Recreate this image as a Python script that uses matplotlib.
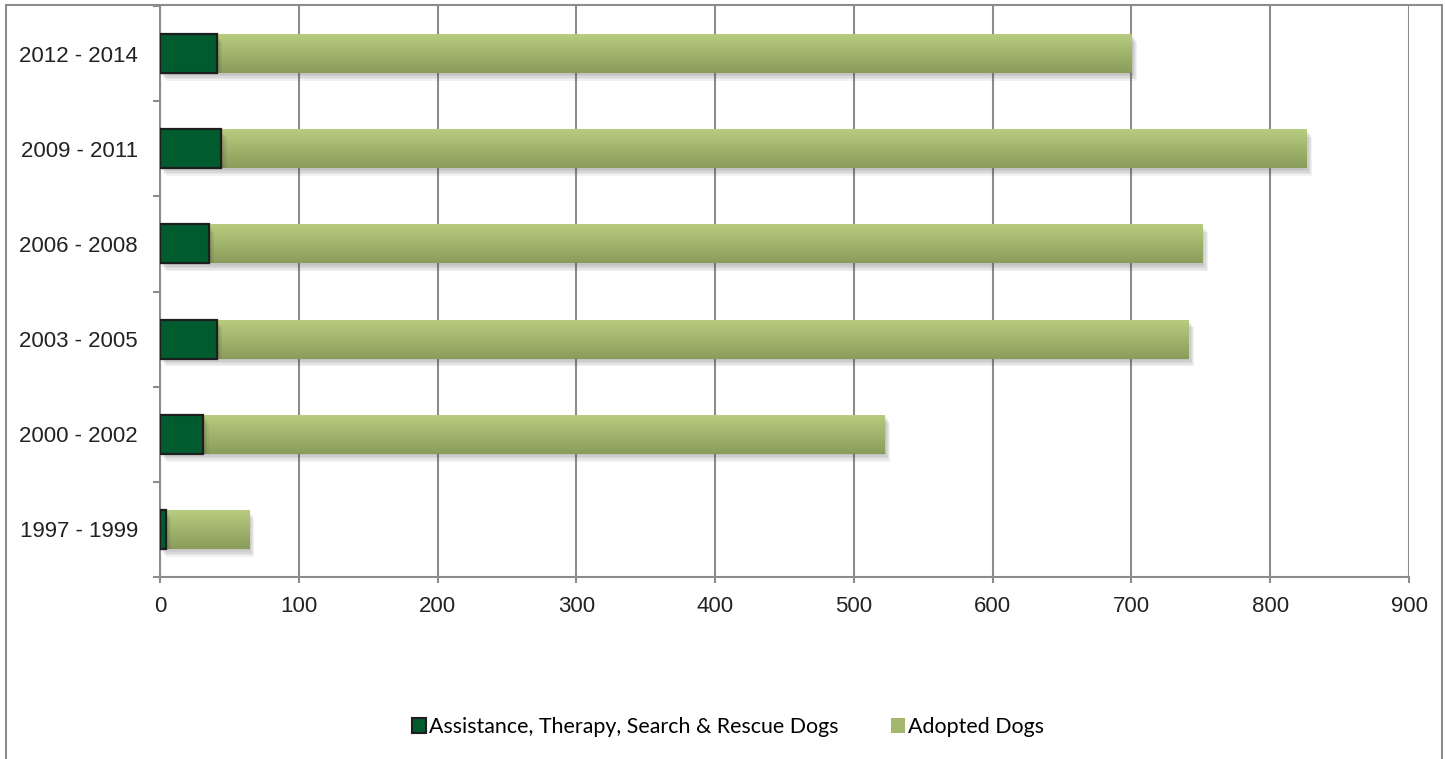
import numpy as np
import matplotlib
matplotlib.use("Agg")
import matplotlib.pyplot as plt
import matplotlib.patheffects as pe
from matplotlib.colors import LinearSegmentedColormap
from matplotlib.patches import Rectangle, Patch

periods = ['1997 - 1999', '2000 - 2002', '2003 - 2005', '2006 - 2008', '2009 - 2011', '2012 - 2014']
service_dogs = [4, 31, 41, 35, 44, 41]
adopted_dogs = [60, 491, 700, 716, 782, 659]
xticks = [0, 100, 200, 300, 400, 500, 600, 700, 800, 900]

W, H = 1445, 759
fig = plt.figure(figsize=(W / 100, H / 100), dpi=100, facecolor='white')

# outer chart frame (bottom edge is cut off in the original)
fig.patches.append(Rectangle((6 / W, -0.02), 1436 / W, 1.02 - 5 / H, transform=fig.transFigure,
                             fill=False, edgecolor='#8c8c8c', lw=1.5, zorder=0))

ax = fig.add_axes([160 / W, 1 - 577 / H, 1249 / W, 571 / H])
y = np.arange(len(periods))
# soft drop shadow: a few faint offset copies
shadow = [pe.SimplePatchShadow(offset=(o, -o * 1.4), shadow_rgbFace='#444444', alpha=0.07)
          for o in (0.8, 1.6, 2.4, 3.2, 4.0)] + [pe.Normal()]

dark = ax.barh(y, service_dogs, height=0.41, color='#005c2f', edgecolor='#1e1e1e', lw=1.6, zorder=3,
               label='Assistance, Therapy, Search & Rescue Dogs')
light = ax.barh(y, adopted_dogs, left=service_dogs, height=0.41, color='#a4b870', lw=0, zorder=2,
                label='Adopted Dogs')

cmap = LinearSegmentedColormap.from_list('grn', ['#8a9c5a', '#b9cd80'])
grad = np.linspace(0, 1, 100).reshape(-1, 1)
for p in light.patches:
    p.set_path_effects(shadow)
    x0, y0, w, h = p.get_x(), p.get_y(), p.get_width(), p.get_height()
    im = ax.imshow(grad, extent=[x0, x0 + w, y0, y0 + h], origin='lower', aspect='auto',
                   cmap=cmap, zorder=2.5, interpolation='bilinear')
    im.set_clip_path(p)
for p in dark.patches:
    p.set_path_effects(shadow)

ax.set_xlim(0, 900)
ax.set_ylim(-0.5, len(periods) - 0.5)
ax.set_xticks(xticks)
ax.set_yticks(y)
ax.set_yticklabels(periods)
ax.set_yticks(np.arange(-0.5, len(periods), 1), minor=True)
ax.tick_params(axis='y', which='major', length=0, pad=16, labelsize=16, labelcolor='#222222')
ax.tick_params(axis='y', which='minor', length=5, width=1.5, color='#8c8c8c')
ax.tick_params(axis='x', length=4.5, width=1.5, color='#8c8c8c', pad=9, labelsize=16, labelcolor='#222222')
for lab in ax.get_xticklabels() + ax.get_yticklabels():
    lab.set_fontfamily('Liberation Sans')

ax.grid(axis='x', color='#8c8c8c', lw=1.5, zorder=0)
ax.set_axisbelow(True)
for s in ['top', 'right']:
    ax.spines[s].set_visible(False)
for s in ['left', 'bottom']:
    ax.spines[s].set_color('#8c8c8c')
    ax.spines[s].set_linewidth(1.5)

handles = [Patch(facecolor='#005c2f', edgecolor='#1e1e1e', lw=1.5),
           Patch(facecolor='#a2b66e', edgecolor='none')]
fig.legend(handles, [dark.get_label(), light.get_label()], loc='center',
           bbox_to_anchor=(728 / W, 1 - 727 / H), ncol=2, frameon=False,
           prop={'family': 'Lato', 'size': 15.4}, handlelength=0.65, handleheight=0.65,
           handletextpad=0.1, columnspacing=2.5)

fig.savefig('out.png', dpi=100, facecolor='white')
